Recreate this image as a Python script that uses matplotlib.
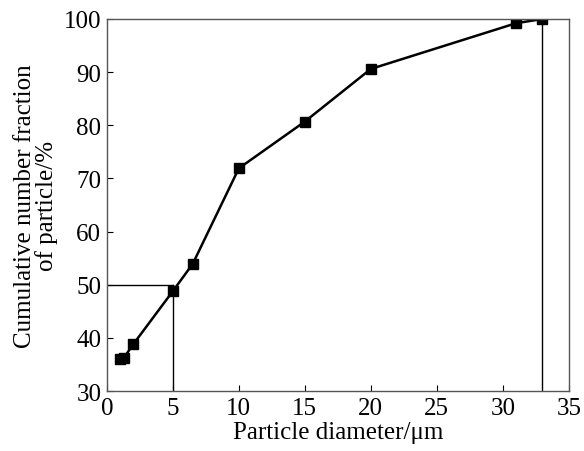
import matplotlib
matplotlib.use("Agg")
import matplotlib.pyplot as plt

diameter = [1.0, 1.3, 2.0, 5.0, 6.5, 10.0, 15.0, 20.0, 31.0, 33.0]
cumulative = [36.0, 36.3, 38.8, 48.8, 53.9, 71.9, 80.7, 90.6, 99.2, 100.0]
x_ticks = [0, 5, 10, 15, 20, 25, 30, 35]
y_ticks = [30, 40, 50, 60, 70, 80, 90, 100]

plt.rcParams['font.family'] = ['Liberation Serif', 'DejaVu Serif']

fig = plt.figure(figsize=(5.84, 4.52), dpi=100)
ax = fig.add_axes([0.183, 0.1327, 0.791, 0.8231])

ax.plot([0, 5], [50, 50], color='black', lw=1.0)
ax.plot([5, 5], [30, 50], color='black', lw=1.0)
ax.plot([33, 33], [30, 100], color='black', lw=1.0)
ax.plot(diameter, cumulative, color='black', lw=1.8, marker='s', ms=6.5)

ax.set_xlim(0, 35)
ax.set_ylim(30, 100)
ax.set_xticks(x_ticks)
ax.set_yticks(y_ticks)
ax.tick_params(direction='in', length=4, labelsize=18, width=0.8, pad=4)
for s in ax.spines.values():
    s.set_color('#555555')
    s.set_linewidth(1.0)
ax.set_xlabel('Particle diameter/\u03bcm', fontsize=18, labelpad=1.5)
ax.set_ylabel('Cumulative number fraction\nof particle/%', fontsize=18, labelpad=4, linespacing=0.95)

fig.savefig('out.png', dpi=100)
